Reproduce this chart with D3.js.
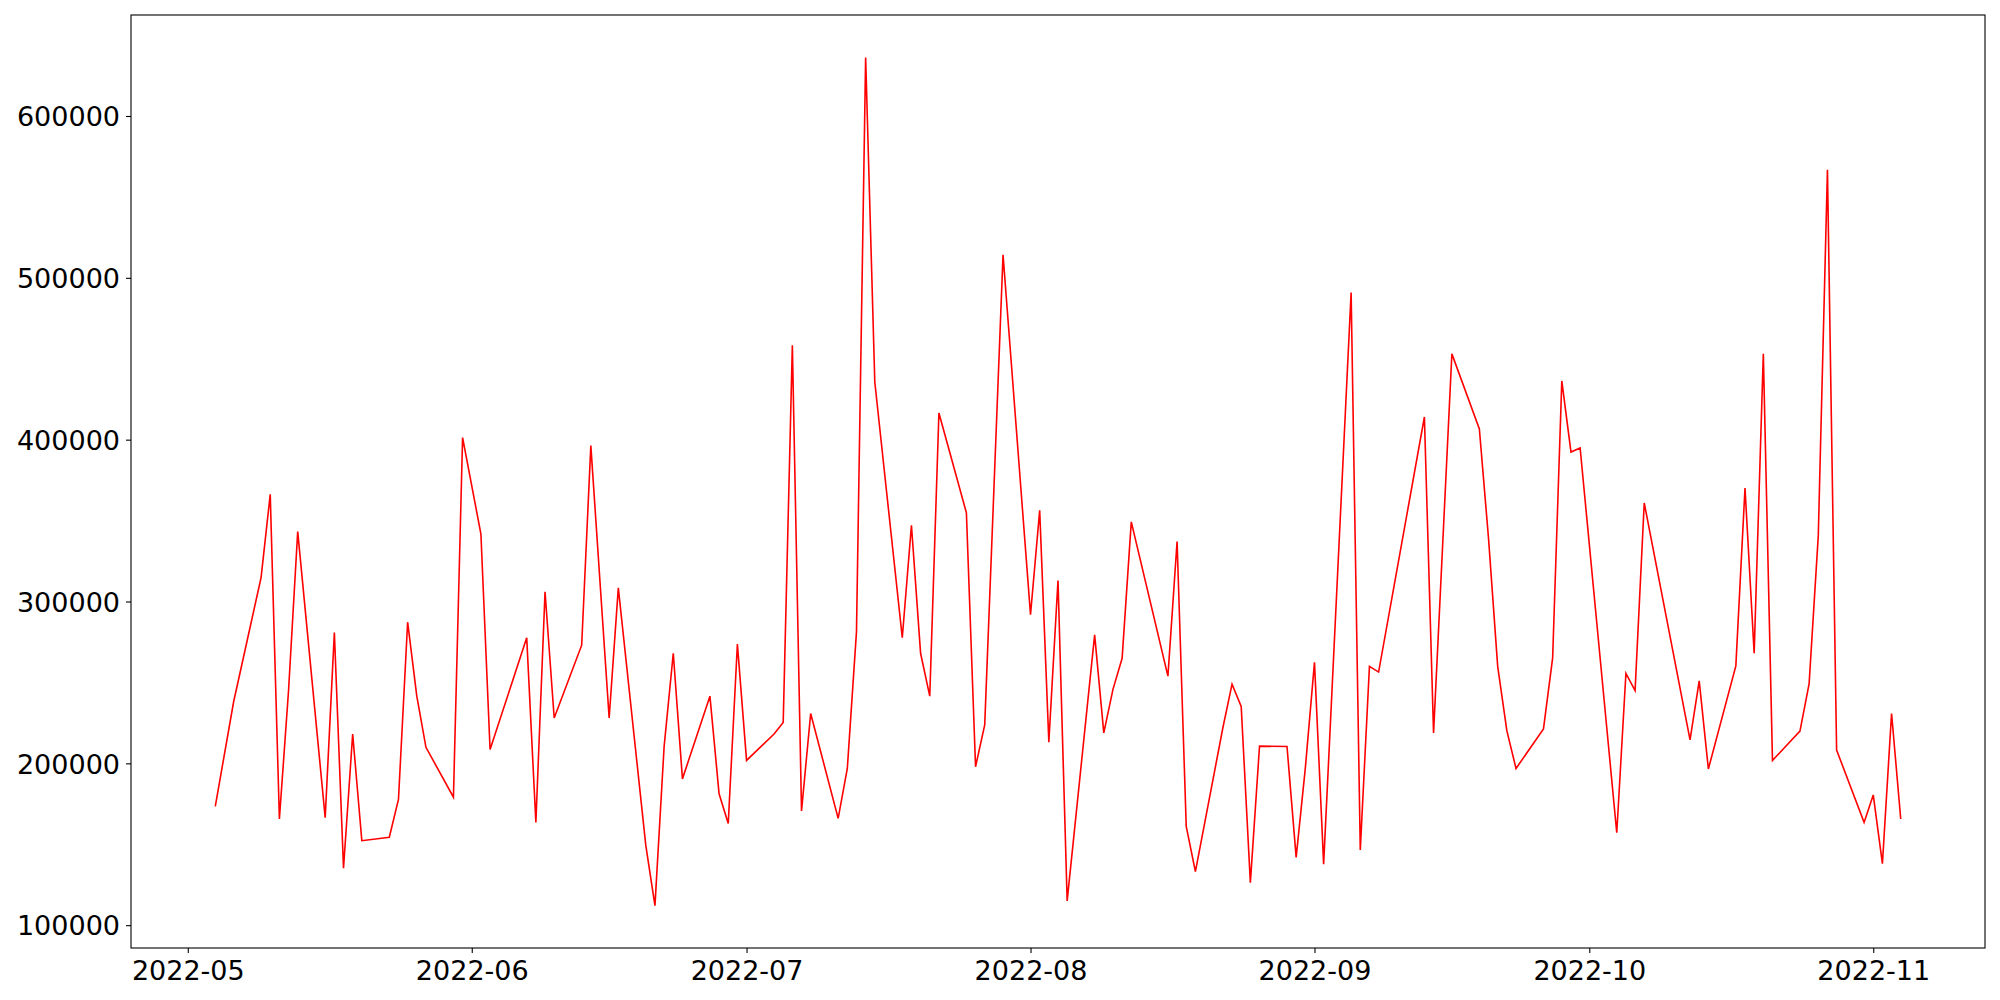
<!DOCTYPE html>
<html>
<head>
<meta charset="utf-8">
<script src="https://cdn.jsdelivr.net/npm/d3@7/dist/d3.min.js"></script>
<style>
    body { margin: 0; background: #fff; }
    svg { display: block; }
    .tick text { font-family: "DejaVu Sans", sans-serif; font-size: 27px; fill: #000; }
    .tick line { stroke: #000; stroke-width: 1.1px; }
</style>
</head>
<body>
<svg id="chart" width="2000" height="1000"></svg>
<script>
// trading days (holidays are simply absent)
const dates = [
    '2022-05-04', '2022-05-06', '2022-05-09', '2022-05-10', '2022-05-11', '2022-05-12', '2022-05-13',
    '2022-05-16', '2022-05-17', '2022-05-18', '2022-05-19', '2022-05-20', '2022-05-23', '2022-05-24',
    '2022-05-25', '2022-05-26', '2022-05-27', '2022-05-30', '2022-05-31', '2022-06-02', '2022-06-03',
    '2022-06-07', '2022-06-08', '2022-06-09', '2022-06-10', '2022-06-13', '2022-06-14', '2022-06-16',
    '2022-06-17', '2022-06-20', '2022-06-21', '2022-06-22', '2022-06-23', '2022-06-24', '2022-06-27',
    '2022-06-28', '2022-06-29', '2022-06-30', '2022-07-01', '2022-07-04', '2022-07-05', '2022-07-06',
    '2022-07-07', '2022-07-08', '2022-07-11', '2022-07-12', '2022-07-13', '2022-07-14', '2022-07-15',
    '2022-07-18', '2022-07-19', '2022-07-20', '2022-07-21', '2022-07-22', '2022-07-25', '2022-07-26',
    '2022-07-27', '2022-07-29', '2022-08-01', '2022-08-02', '2022-08-03', '2022-08-04', '2022-08-05',
    '2022-08-08', '2022-08-09', '2022-08-10', '2022-08-11', '2022-08-12', '2022-08-16', '2022-08-17',
    '2022-08-18', '2022-08-19', '2022-08-22', '2022-08-23', '2022-08-24', '2022-08-25', '2022-08-26',
    '2022-08-29', '2022-08-30', '2022-08-31', '2022-09-01', '2022-09-02', '2022-09-05', '2022-09-06',
    '2022-09-07', '2022-09-08', '2022-09-13', '2022-09-14', '2022-09-16', '2022-09-19', '2022-09-20',
    '2022-09-21', '2022-09-22', '2022-09-23', '2022-09-26', '2022-09-27', '2022-09-28', '2022-09-29',
    '2022-09-30', '2022-10-04', '2022-10-05', '2022-10-06', '2022-10-07', '2022-10-12', '2022-10-13',
    '2022-10-14', '2022-10-17', '2022-10-18', '2022-10-19', '2022-10-20', '2022-10-21', '2022-10-24',
    '2022-10-25', '2022-10-26', '2022-10-27', '2022-10-28', '2022-10-31', '2022-11-01', '2022-11-02',
    '2022-11-03', '2022-11-04'
];

const values = [
    173400, 237900, 314800, 366200, 165600, 245000, 343200,
    166400, 280800, 135200, 218100, 152200, 154300, 177700,
    287200, 241500, 209900, 179100, 401300, 341700, 208500,
    277600, 163500, 306000, 228000, 273000, 396300, 228000,
    308400, 149300, 112100, 210300, 268000, 190400, 241500,
    181200, 162800, 273700, 201800, 218100, 225200, 458300,
    170600, 230800, 166000, 196800, 281200, 636200, 435600,
    277600, 347100, 268000, 241500, 416500, 354800, 197900,
    223800, 514300, 291800, 356300, 213100, 313000, 115000,
    279400, 218800, 245700, 264900, 349200, 253900, 337100,
    161000, 133100, 222000, 248900, 235100, 126300, 210600,
    210400, 141900, 197000, 262400, 137700, 490900, 146500,
    259900, 256400, 414000, 218800, 453000, 406600, 339000,
    259900, 220200, 196800, 221300, 265200, 436300, 392400,
    394900, 157100, 255600, 245000, 360900, 214500, 251000,
    196500, 260200, 370100, 268000, 453000, 201800, 219900,
    249300, 340700, 566700, 208200, 163500, 180500, 138000,
    230800, 165600
];

const yTicks = [100000, 200000, 300000, 400000, 500000, 600000];

const margin = { left: 131, top: 15, right: 15, bottom: 52 };
const width = 2000, height = 1000;

const parse = d3.utcParse('%Y-%m-%d');
const data = dates.map((d, i) => ({ date: parse(d), value: values[i] }));

// matplotlib-style 5% padding on both axes
const xExt = d3.extent(data, d => d.date);
const xPad = (xExt[1] - xExt[0]) * 0.05;
const yExt = d3.extent(data, d => d.value);
const yPad = (yExt[1] - yExt[0]) * 0.05;

const x = d3.scaleUtc()
    .domain([new Date(+xExt[0] - xPad), new Date(+xExt[1] + xPad)])
    .range([margin.left, width - margin.right]);

const y = d3.scaleLinear()
    .domain([yExt[0] - yPad, yExt[1] + yPad])
    .range([height - margin.bottom, margin.top]);

const svg = d3.select('#chart');

// x axis
const xAxis = svg.append('g')
    .attr('transform', `translate(0,${height - margin.bottom})`)
    .call(d3.axisBottom(x)
        .ticks(d3.utcMonth.every(1))
        .tickFormat(d3.utcFormat('%Y-%m'))
        .tickSize(5)
        .tickPadding(7));
xAxis.select('.domain').remove();
xAxis.selectAll('.tick text').attr('dy', '0.74em');

// y axis
const yAxis = svg.append('g')
    .attr('transform', `translate(${margin.left},0)`)
    .call(d3.axisLeft(y)
        .tickValues(yTicks)
        .tickFormat(d3.format('d'))
        .tickSize(5)
        .tickPadding(6));
yAxis.select('.domain').remove();
yAxis.selectAll('.tick text').attr('dy', '0.36em');

// the series
const line = d3.line()
    .x(d => x(d.date))
    .y(d => y(d.value));

svg.append('path')
    .datum(data)
    .attr('fill', 'none')
    .attr('stroke', '#ff0000')
    .attr('stroke-width', 1.6)
    .attr('stroke-linejoin', 'miter')
    .attr('d', line);

// frame
svg.append('rect')
    .attr('x', margin.left)
    .attr('y', margin.top)
    .attr('width', width - margin.left - margin.right)
    .attr('height', height - margin.top - margin.bottom)
    .attr('fill', 'none')
    .attr('stroke', '#000')
    .attr('stroke-width', 1.1);
</script>
</body>
</html>
